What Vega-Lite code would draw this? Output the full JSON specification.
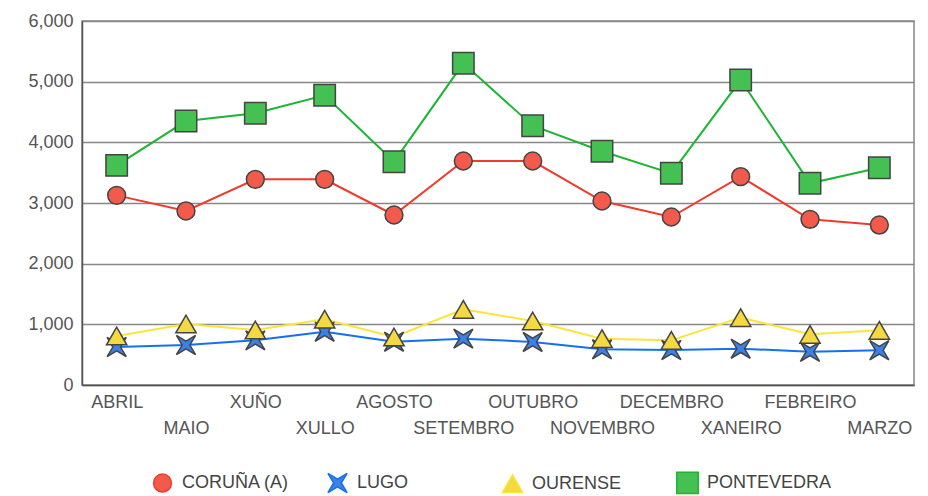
{
  "$schema": "https://vega.github.io/schema/vega-lite/v6.json",
  "width": 832,
  "height": 364,
  "padding": {"left": 27, "top": 12, "right": 5, "bottom": 0},
  "autosize": {"type": "pad"},
  "background": "white",
  "config": {
    "font": "Liberation Sans",
    "view": {"stroke": "#888", "strokeWidth": 1.5},
    "axis": {"labelFont": "Liberation Sans", "labelFontSize": 18, "labelColor": "#555", "titleFontSize": 0}
  },
  "datasets": {
    "d": [
      {"mes": "ABRIL", "prov": "CORUÑA (A)", "v": 3126},
      {"mes": "MAIO", "prov": "CORUÑA (A)", "v": 2868},
      {"mes": "XUÑO", "prov": "CORUÑA (A)", "v": 3390},
      {"mes": "XULLO", "prov": "CORUÑA (A)", "v": 3390},
      {"mes": "AGOSTO", "prov": "CORUÑA (A)", "v": 2802},
      {"mes": "SETEMBRO", "prov": "CORUÑA (A)", "v": 3692},
      {"mes": "OUTUBRO", "prov": "CORUÑA (A)", "v": 3692},
      {"mes": "NOVEMBRO", "prov": "CORUÑA (A)", "v": 3033},
      {"mes": "DECEMBRO", "prov": "CORUÑA (A)", "v": 2769},
      {"mes": "XANEIRO", "prov": "CORUÑA (A)", "v": 3434},
      {"mes": "FEBREIRO", "prov": "CORUÑA (A)", "v": 2731},
      {"mes": "MARZO", "prov": "CORUÑA (A)", "v": 2637},
      {"mes": "ABRIL", "prov": "LUGO", "v": 626},
      {"mes": "MAIO", "prov": "LUGO", "v": 659},
      {"mes": "XUÑO", "prov": "LUGO", "v": 736},
      {"mes": "XULLO", "prov": "LUGO", "v": 879},
      {"mes": "AGOSTO", "prov": "LUGO", "v": 714},
      {"mes": "SETEMBRO", "prov": "LUGO", "v": 764},
      {"mes": "OUTUBRO", "prov": "LUGO", "v": 710},
      {"mes": "NOVEMBRO", "prov": "LUGO", "v": 588},
      {"mes": "DECEMBRO", "prov": "LUGO", "v": 577},
      {"mes": "XANEIRO", "prov": "LUGO", "v": 599},
      {"mes": "FEBREIRO", "prov": "LUGO", "v": 549},
      {"mes": "MARZO", "prov": "LUGO", "v": 572},
      {"mes": "ABRIL", "prov": "OURENSE", "v": 808},
      {"mes": "MAIO", "prov": "OURENSE", "v": 1005},
      {"mes": "XUÑO", "prov": "OURENSE", "v": 906},
      {"mes": "XULLO", "prov": "OURENSE", "v": 1083},
      {"mes": "AGOSTO", "prov": "OURENSE", "v": 791},
      {"mes": "SETEMBRO", "prov": "OURENSE", "v": 1247},
      {"mes": "OUTUBRO", "prov": "OURENSE", "v": 1055},
      {"mes": "NOVEMBRO", "prov": "OURENSE", "v": 764},
      {"mes": "DECEMBRO", "prov": "OURENSE", "v": 736},
      {"mes": "XANEIRO", "prov": "OURENSE", "v": 1110},
      {"mes": "FEBREIRO", "prov": "OURENSE", "v": 835},
      {"mes": "MARZO", "prov": "OURENSE", "v": 901},
      {"mes": "ABRIL", "prov": "PONTEVEDRA", "v": 3620},
      {"mes": "MAIO", "prov": "PONTEVEDRA", "v": 4351},
      {"mes": "XUÑO", "prov": "PONTEVEDRA", "v": 4478},
      {"mes": "XULLO", "prov": "PONTEVEDRA", "v": 4775},
      {"mes": "AGOSTO", "prov": "PONTEVEDRA", "v": 3681},
      {"mes": "SETEMBRO", "prov": "PONTEVEDRA", "v": 5302},
      {"mes": "OUTUBRO", "prov": "PONTEVEDRA", "v": 4274},
      {"mes": "NOVEMBRO", "prov": "PONTEVEDRA", "v": 3852},
      {"mes": "DECEMBRO", "prov": "PONTEVEDRA", "v": 3489},
      {"mes": "XANEIRO", "prov": "PONTEVEDRA", "v": 5027},
      {"mes": "FEBREIRO", "prov": "PONTEVEDRA", "v": 3324},
      {"mes": "MARZO", "prov": "PONTEVEDRA", "v": 3582}
    ]
  },
  "data": {"name": "d"},
  "encoding": {
    "x": {
      "field": "mes", "type": "ordinal", "sort": null,
      "scale": {"type": "point", "padding": 0.5},
      "axis": {
        "title": null, "labelAngle": 0, "ticks": false, "grid": false,
        "domainColor": "#555", "domainWidth": 1.5, "labelPadding": 8,
        "labelLineHeight": 26, "labelBaseline": "top",
        "labelExpr": "indexof(['MAIO','XULLO','SETEMBRO','NOVEMBRO','XANEIRO','MARZO'], datum.label) >= 0 ? ['', datum.label] : datum.label"
      }
    },
    "y": {
      "field": "v", "type": "quantitative",
      "scale": {"domain": [0, 6000], "nice": false},
      "axis": {
        "title": null, "values": [0, 1000, 2000, 3000, 4000, 5000, 6000],
        "format": ",.0f", "ticks": false, "labelPadding": 9,
        "grid": true, "gridColor": "#888", "gridWidth": 1.5,
        "domainColor": "#555", "domainWidth": 1.5
      }
    }
  },
  "layer": [
    {
      "mark": {"type": "line", "strokeWidth": 2},
      "encoding": {
        "color": {
          "field": "prov", "type": "nominal",
          "scale": {"domain": ["CORUÑA (A)", "LUGO", "OURENSE", "PONTEVEDRA"], "range": ["#f03a2a", "#1470f0", "#fde43a", "#1db533"]},
          "legend": {
            "title": null, "orient": "none", "legendX": 69, "legendY": 450,
            "direction": "horizontal", "columns": 4, "gridAlign": "all", "columnPadding": 16,
            "padding": 0, "labelFont": "Liberation Sans", "labelFontSize": 18, "labelColor": "#444",
            "labelOffset": 8, "symbolSize": 320, "symbolStrokeColor": "#444", "symbolStrokeWidth": 1.5,
            "encode": {"symbols": {"update": {"stroke": {"value": "#444"}, "strokeWidth": {"value": 1.5}, "opacity": {"value": 1}}}}
          }
        },
        "detail": {"field": "prov"}
      }
    },
    {
      "mark": {"type": "point", "filled": true, "stroke": "#444", "strokeWidth": 1.5, "opacity": 1},
      "encoding": {
        "fill": {
          "field": "prov", "type": "nominal",
          "scale": {"domain": ["CORUÑA (A)", "LUGO", "OURENSE", "PONTEVEDRA"], "range": ["#f25a4c", "#3a82e8", "#f5d940", "#44c152"]}
        },
        "shape": {
          "field": "prov", "type": "nominal",
          "scale": {"domain": ["CORUÑA (A)", "LUGO", "OURENSE", "PONTEVEDRA"], "range": ["circle", "M-1,-1L0,-0.4L1,-1L0.4,0L1,1L0,0.4L-1,1L-0.4,0Z", "triangle-up", "square"]}
        },
        "size": {
          "field": "prov", "type": "nominal",
          "scale": {"domain": ["CORUÑA (A)", "LUGO", "OURENSE", "PONTEVEDRA"], "range": [320, 460, 330, 260]}
        }
      }
    }
  ]
}
